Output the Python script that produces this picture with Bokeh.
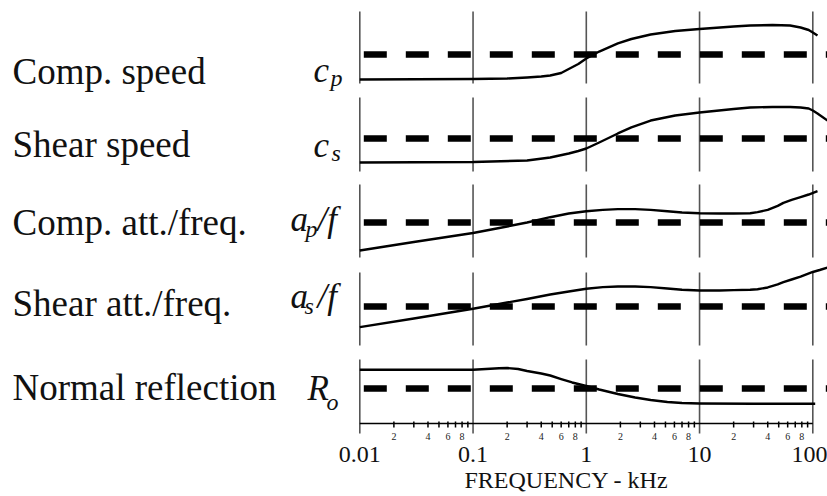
from bokeh.plotting import figure
from bokeh.models import Range1d, Label, FixedTicker, Title
from bokeh.core.properties import value
from bokeh.embed import file_html
from bokeh.resources import INLINE

# ---------------- data ----------------
DECADES = [0.01, 0.1, 1, 10, 100]
TICK_LABELS = ["0.01", "0.1", "1", "10", "100"]
MINOR_MULT = [2, 3, 4, 5, 6, 7, 8, 9]
MINOR_LABELED = [2, 4, 6, 8]
X_LABEL = "FREQUENCY - kHz"

ROW_NAMES = ["Comp. speed", "Shear speed", "Comp. att./freq.",
             "Shear att./freq.", "Normal reflection"]

# curve values, normalised within each panel (0 = panel bottom, 1 = panel top)
f_cp = [0.01, 0.1, 0.2, 0.3, 0.4, 0.48, 0.6, 0.7, 0.85, 1.0, 1.3, 1.9, 2.5, 3.7, 6.1, 10,
        20, 28, 44, 63, 78, 92, 100, 110]
v_cp = [0.056, 0.0625, 0.069, 0.083, 0.097, 0.111, 0.146, 0.201, 0.271, 0.347, 0.444, 0.556,
        0.618, 0.681, 0.729, 0.757, 0.792, 0.806, 0.8125, 0.806, 0.778, 0.743, 0.708, 0.667]

f_cs = [0.01, 0.1, 0.3, 0.48, 0.7, 0.85, 1.0, 1.3, 1.9, 2.5, 3.7, 6.1, 10, 20, 28, 44, 63,
        78, 92, 100, 110, 135]
v_cs = [0.122, 0.128, 0.149, 0.189, 0.243, 0.277, 0.311, 0.392, 0.514, 0.595, 0.689, 0.757,
        0.797, 0.845, 0.865, 0.872, 0.872, 0.865, 0.851, 0.824, 0.784, 0.689]

f_ap = [0.01, 0.03, 0.1, 0.2, 0.3, 0.48, 0.7, 1.0, 1.4, 1.9, 2.7, 3.7, 5.2, 7, 10, 15, 20,
        28, 32.5, 40, 49, 55, 65, 78, 92, 110]
v_ap = [0.096, 0.212, 0.336, 0.425, 0.479, 0.552, 0.603, 0.634, 0.653, 0.662, 0.662, 0.653,
        0.634, 0.616, 0.607, 0.603, 0.603, 0.607, 0.621, 0.653, 0.708, 0.749, 0.788, 0.826,
        0.863, 0.908]

f_as = [0.01, 0.03, 0.1, 0.2, 0.3, 0.48, 0.7, 1.0, 1.4, 1.9, 2.7, 3.7, 5.2, 7, 10, 15, 20,
        28, 32.5, 40, 49, 55, 65, 78, 100, 115, 135]
v_as = [0.251, 0.370, 0.503, 0.589, 0.637, 0.699, 0.740, 0.777, 0.799, 0.808, 0.808, 0.799,
        0.781, 0.763, 0.753, 0.753, 0.758, 0.763, 0.771, 0.795, 0.836, 0.867, 0.904, 0.945,
        1.007, 1.034, 1.068]

f_r = [0.01, 0.1, 0.13, 0.17, 0.2, 0.25, 0.3, 0.4, 0.48, 0.6, 0.75, 1.0, 1.3, 1.9, 2.7, 3.7,
       5.2, 7, 10, 30, 105]
v_r = [0.839, 0.839, 0.852, 0.8625, 0.867, 0.852, 0.820, 0.781, 0.75, 0.695, 0.641, 0.586,
       0.531, 0.461, 0.406, 0.367, 0.336, 0.320, 0.3125, 0.308, 0.308]

REF = [0.403, 0.446, 0.479, 0.534, 0.547]   # dashed reference level per panel

CURVES = [(f_cp, v_cp), (f_cs, v_cs), (f_ap, v_ap), (f_as, v_as), (f_r, v_r)]

# ---------------- layout ----------------
W, H = 827, 496
B_BOTTOM = 55
FRAME_B = H - B_BOTTOM          # canvas y of frame bottom
X0_PX, DEC_PX = 359.3, 113.25   # canvas x of 0.01 and pixels per decade
BANDS = [(11, 83), (97, 171), (184, 257), (272, 345), (359, 423)]
FONT = "Liberation Serif"

def sx(x):
    return x

def sy(y):
    return FRAME_B - y

x_start = 10 ** (-2 - X0_PX / DEC_PX)
x_end = 10 ** (-2 + (W - X0_PX) / DEC_PX)

p = figure(width=W, height=H, x_axis_type="log", y_axis_location=None,
           x_range=Range1d(x_start, x_end), y_range=Range1d(0, 1),
           output_backend="svg", toolbar_location=None,
           min_border_left=0, min_border_right=0,
           min_border_top=0, min_border_bottom=B_BOTTOM)
p.outline_line_color = None
p.xgrid.visible = False
p.ygrid.visible = False

for i, (t, b) in enumerate(BANDS):
    k = b - t
    s = -(FRAME_B - b) / k
    p.extra_y_ranges[f"p{i}"] = Range1d(s, s + FRAME_B / k)

last = len(BANDS) - 1
k_last = BANDS[last][1] - BANDS[last][0]

for i, (f, v) in enumerate(CURVES):
    name = f"p{i}"
    y_low = -10 / k_last if i == last else 0
    p.segment(x0=DECADES, y0=y_low, x1=DECADES, y1=1, y_range_name=name,
              line_color="#555555", line_width=1.6)
    p.segment(x0=DECADES[0], y0=REF[i], x1=x_end, y1=REF[i], y_range_name=name,
              line_color="black", line_width=6.5, line_dash="23 19", line_dash_offset=38)
    p.line(f, v, y_range_name=name, line_color="black", line_width=2.4,
           line_join="round")

# axis line, minor ticks and minor tick labels of the frequency axis
bot = f"p{last}"
p.segment(x0=DECADES[0], y0=0, x1=DECADES[-1], y1=0, y_range_name=bot,
          line_color="black", line_width=1.5)
minor_x = [d * m for d in DECADES[:-1] for m in MINOR_MULT]
p.segment(x0=minor_x, y0=2 / k_last, x1=minor_x, y1=-4 / k_last, y_range_name=bot,
          line_color="black", line_width=1.5)
p.text(x=[d * m for d in DECADES[:-1] for m in MINOR_LABELED], y=-13 / k_last,
       text=[str(m) for d in DECADES[:-1] for m in MINOR_LABELED], y_range_name=bot,
       text_font=value(FONT), text_font_size="10px", text_color="#222222",
       text_align="center", text_baseline="middle")

# library axis: decade labels
ax = p.xaxis[0]
ax.ticker = FixedTicker(ticks=DECADES, minor_ticks=[])
ax.major_label_overrides = {d: s for d, s in zip(DECADES, TICK_LABELS)}
ax.axis_line_color = None
ax.major_tick_line_color = None
ax.minor_tick_line_color = None
ax.major_tick_in = 0
ax.major_tick_out = 0
ax.minor_tick_in = 0
ax.minor_tick_out = 0
ax.major_label_standoff = 5
ax.major_label_text_font = FONT
ax.major_label_text_font_size = "24px"
ax.major_label_text_color = "#111111"

# axis title below the tick labels
p.add_layout(Title(text=X_LABEL, align="left", offset=464, standoff=0,
                   text_font=FONT, text_font_size="24px", text_font_style="normal",
                   text_color="#111111"), "below")

# row names
ROW_BASE = [71, 144, 222, 303, 387]
for name, yb in zip(ROW_NAMES, ROW_BASE):
    p.add_layout(Label(x=sx(12), y=sy(yb), x_units="screen", y_units="screen", text=name,
                       text_font=FONT, text_font_size="37px", text_color="#111111",
                       text_align="left", text_baseline="alphabetic"))

# symbols: (text, x, baseline, size)
SYMBOLS = [("c", 313, 70, 35), ("p", 330, 77, 24),
           ("c", 313, 145, 35), ("s", 331, 152, 24),
           ("a", 290, 219, 35), ("p", 305, 228, 24), ("/f", 317, 219, 35),
           ("a", 290, 296, 35), ("s", 304, 305, 24), ("/f", 317, 296, 35),
           ("R", 307, 388, 35), ("o", 326, 401, 24)]
for txt, x, yb, sz in SYMBOLS:
    p.add_layout(Label(x=sx(x), y=sy(yb), x_units="screen", y_units="screen", text=txt,
                       text_font=FONT, text_font_size=f"{sz}px", text_font_style="italic",
                       text_color="#111111", text_align="left", text_baseline="alphabetic"))

open("out.html", "w").write(file_html(p, INLINE))
